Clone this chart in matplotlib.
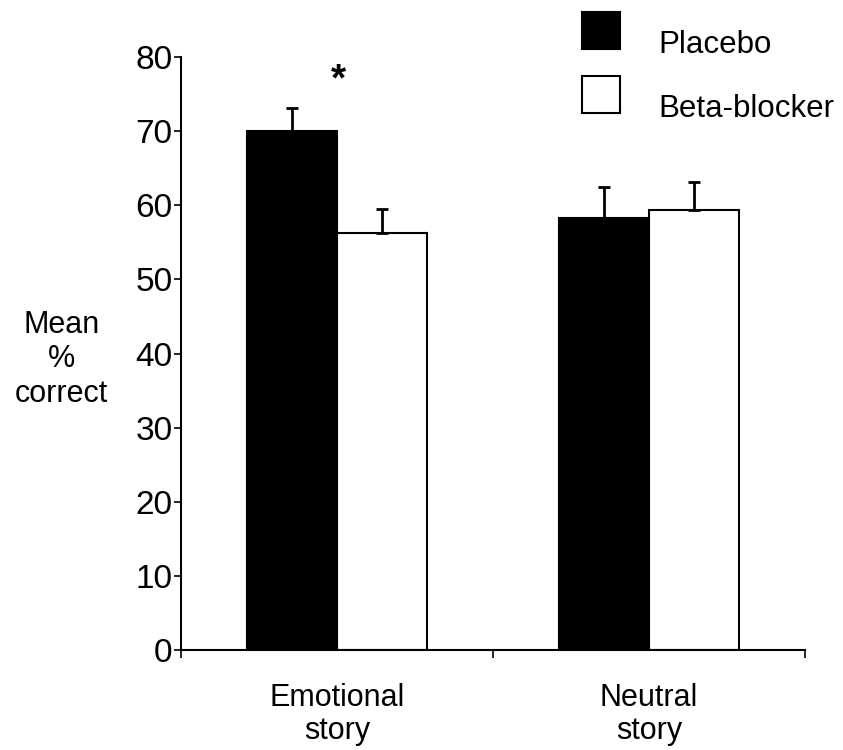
import matplotlib

matplotlib.use("Agg")

import matplotlib.pyplot as plt
import numpy as np
from matplotlib.patches import Rectangle

plt.rcParams["font.family"] = ["Liberation Sans", "DejaVu Sans"]

groups = ["Emotional\nstory", "Neutral\nstory"]
conditions = ["Placebo", "Beta-blocker"]
placebo_mean = [70, 58.3]
placebo_err = [3.1, 4.1]
beta_mean = [56.2, 59.3]
beta_err = [3.3, 3.9]
y_ticks = [0, 10, 20, 30, 40, 50, 60, 70, 80]

fig = plt.figure(figsize=(8.43, 7.5), dpi=100)
ax = fig.add_axes([0.2147, 0.1333, 0.7403, 0.7907])

centers = np.array([0.5, 1.5])
width = 0.288

ax.bar(centers - width / 2, placebo_mean, width, color="black", edgecolor="black",
       linewidth=1.5, label=conditions[0])
ax.bar(centers + width / 2, beta_mean, width, color="white", edgecolor="black",
       linewidth=1.5, label=conditions[1])
ax.errorbar(centers - width / 2, placebo_mean, yerr=[[0, 0], placebo_err], fmt="none",
            ecolor="black", elinewidth=2, capsize=4, capthick=2)
ax.errorbar(centers + width / 2, beta_mean, yerr=[[0, 0], beta_err], fmt="none",
            ecolor="black", elinewidth=2, capsize=4, capthick=2)

ax.text(0.506, 76.8, "*", ha="center", va="center", fontsize=28, fontweight="bold")

ax.set_xlim(0, 2)
ax.set_ylim(0, 80)
ax.set_yticks(y_ticks)
ax.set_yticklabels([str(t) for t in y_ticks], fontsize=24)
ax.set_xticks([0, 1, 2])
ax.set_xticklabels([])
ax.set_xticks(centers, minor=True)
ax.set_xticklabels(groups, minor=True, fontsize=22, linespacing=1.1)
ax.tick_params(axis="x", which="minor", length=0, pad=24)
ax.tick_params(axis="x", which="major", length=6, width=1.2, direction="out")
ax.tick_params(axis="y", length=5, width=1.2, pad=1)

for side in ["top", "right"]:
    ax.spines[side].set_visible(False)
for side in ["left", "bottom"]:
    ax.spines[side].set_linewidth(1.5)

ax.set_ylabel("Mean\n%\ncorrect", rotation=0, fontsize=22, ha="center", va="center",
              linespacing=1.2)
ax.yaxis.set_label_coords(-0.192, 0.49)

# legend drawn by hand: text sits lower than the square in the original
fig_w, fig_h = fig.get_size_inches() * fig.dpi
for i, (name, face) in enumerate(zip(conditions, ["black", "white"])):
    top = 12 + i * 64
    fig.patches.append(Rectangle((582 / fig_w, 1 - (top + 37) / fig_h), 38 / fig_w, 37 / fig_h,
                                 facecolor=face, edgecolor="black", linewidth=1.5,
                                 transform=fig.transFigure, figure=fig))
    fig.text(658 / fig_w, 1 - (top + 41) / fig_h, name, fontsize=22.5,
             ha="left", va="baseline")

fig.savefig("out.png", dpi=100)
plt.close(fig)
